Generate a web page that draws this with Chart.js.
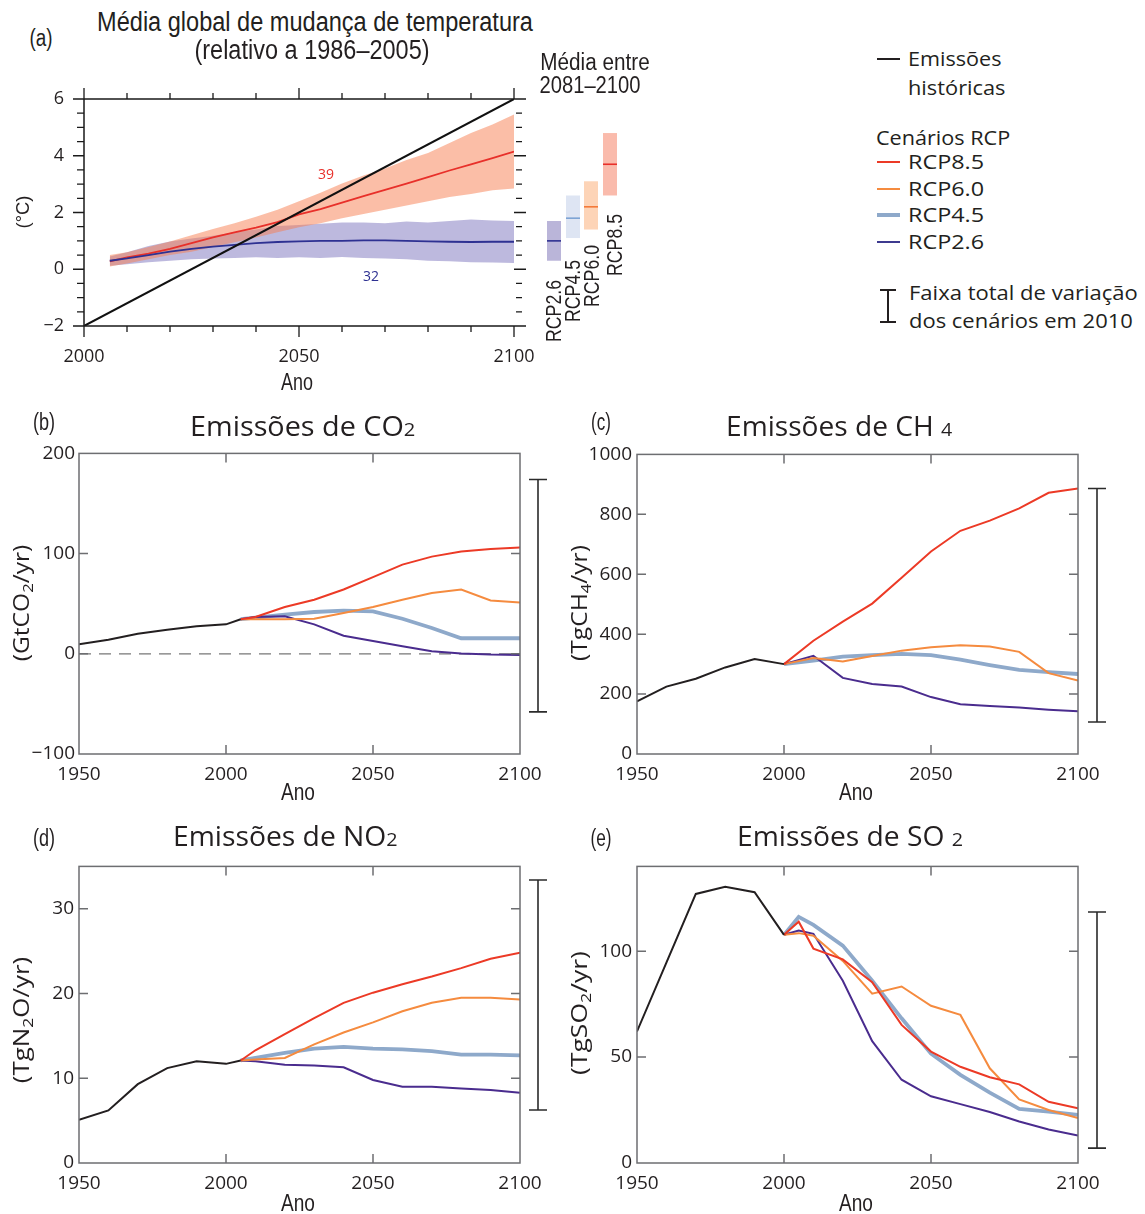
<!DOCTYPE html>
<html><head><meta charset="utf-8">
<script src="https://cdn.jsdelivr.net/npm/chart.js@4.4.1/dist/chart.umd.min.js"></script>
<style>
body{margin:0;background:#fff;}
#root{position:relative;width:1145px;height:1214px;overflow:hidden;font-family:"Open Sans",sans-serif;color:#231f20;background:#fff;}
#root canvas{position:absolute;}
.t{position:absolute;white-space:nowrap;line-height:1;}
.hl{position:absolute;}
</style></head><body><div id="root"></div>
<script>
// ---------------- DATA ----------------
// Panel (a): global mean temperature change (°C, relative to 1986–2005)
const tempYears = [2006,2010,2015,2020,2025,2030,2035,2040,2045,2050,2055,2060,2065,2070,2075,2080,2085,2090,2095,2100];
const rcp85Mean = [0.28,0.42,0.55,0.72,0.92,1.12,1.30,1.47,1.66,1.93,2.12,2.35,2.58,2.80,3.02,3.25,3.48,3.70,3.92,4.15];
const rcp85High = [0.50,0.60,0.78,0.98,1.20,1.42,1.62,1.85,2.10,2.40,2.70,3.02,3.30,3.55,3.85,4.10,4.45,4.80,5.10,5.45];
const rcp85Low  = [0.10,0.20,0.35,0.50,0.62,0.78,0.95,1.12,1.30,1.48,1.62,1.80,1.95,2.10,2.25,2.40,2.55,2.65,2.78,2.85];
const rcp26Mean = [0.30,0.38,0.50,0.62,0.72,0.80,0.86,0.92,0.96,0.98,1.00,1.00,1.02,1.02,1.00,0.98,0.97,0.96,0.97,0.97];
const rcp26High = [0.45,0.60,0.82,0.98,1.08,1.18,1.30,1.40,1.52,1.56,1.60,1.65,1.65,1.62,1.68,1.65,1.70,1.75,1.72,1.70];
const rcp26Low  = [0.12,0.18,0.25,0.30,0.35,0.38,0.40,0.42,0.40,0.42,0.40,0.43,0.40,0.38,0.35,0.30,0.28,0.25,0.24,0.22];
const diagYears = [2000,2100];
const diagValues = [-2,6];
const modelCounts = ['39','32'];
// 2081–2100 mean ranges
const barScenarios = ['RCP2.6','RCP4.5','RCP6.0','RCP8.5'];
const barLow  = [0.3,1.1,1.4,2.6];
const barHigh = [1.7,2.6,3.1,4.8];
const barMean = [1.0,1.8,2.2,3.7];

// Emission panels
const histYears = [1950,1960,1970,1980,1990,2000];
const rcpYears  = [2010,2020,2030,2040,2050,2060,2070,2080,2090,2100];

const co2Hist = [9.5,14,20,24,27.4,29.4,34.5];      // + 2005
const co2Start = 2005;
const co2_85 = [36.7,46.7,54,64.2,76.5,89,97,102,104.7,106];
const co2_60 = [34.4,34.4,35,40.7,46.7,54,60.6,64.2,53.3,51.3];
const co2_45 = [36,39,41.7,43,42.3,35,25.8,15.5,15.5,15.5];
const co2_26 = [36.7,37.4,29.4,18,12.8,7.5,2.5,0.2,-0.8,-1.1];
const co2Range = [-58,174];

const ch4Hist = [176,225,251,289,317,300];
const ch4_85 = [378,442,502,588,676,745,779,820,872,886];
const ch4_60 = [320,309,327,345,356,363,359,341,270,245];
const ch4_45 = [312,325,330,334,330,315,297,281,273,267];
const ch4_26 = [328,254,234,225,190,166,160,155,148,143];
const ch4Range = [107,886];

const n2oHist = [5.1,6.2,9.3,11.2,12.0,11.7,12.1]; // + 2005
const n2oStart = 2005;
const n2o_85 = [13.3,15.2,17.1,18.9,20.1,21.1,22.0,23.0,24.1,24.8];
const n2o_60 = [12.2,12.4,14.0,15.4,16.6,17.9,18.9,19.5,19.5,19.3];
const n2o_45 = [12.4,13.0,13.5,13.7,13.5,13.4,13.2,12.8,12.8,12.7];
const n2o_26 = [12.0,11.6,11.5,11.3,9.8,9.0,9.0,8.8,8.6,8.3];
const n2oRange = [6.25,33.4];

const so2Hist = [62.1,94.6,127,130.4,127.8,107.7];
const so2Years = [2005,2010,2020,2030,2040,2050,2060,2070,2080,2090,2100];
const so2_85 = [113.9,101.2,96.1,85.3,65.2,52.6,45.4,40.5,37.1,28.9,25.8];
const so2_60 = [108.5,107.3,95.4,79.9,83.3,74.2,69.9,44.7,30.0,25.0,21.2];
const so2_45 = [116.2,112.4,102.6,86,68.3,51.6,41.6,33.2,25.5,24.3,22.7];
const so2_26 = [109.7,108.2,86,57.5,39.3,31.5,27.8,24.1,19.6,15.8,13.0];
const so2Range = [7,118.5];

// ---------------- STYLE ----------------
const C = {
  black:'#231f20', red:'#ec3a26', orange:'#f58b3f', blue45:'#8ea9ca', purple:'#4a2c8e',
  tRed:'#e8302a', tBlue:'#2e3192'
};
const root = document.getElementById('root');

function pts(xs, ys){ return ys.map((v,i)=>({x:xs[i], y:v})); }

// ---------------- HTML text helper ----------------
const fitList = [];
function addText(html, o){
  const el = document.createElement('div');
  el.className='t';
  el.innerHTML = html;
  el.style.fontSize = o.size+'px';
  el.style.fontFamily = o.font || '"Open Sans", sans-serif';
  el.style.color = o.color || C.black;
  el.style.left = o.x+'px';
  el.style.top = o.y+'px';
  root.appendChild(el);
  fitList.push({el,o});
  return el;
}
function fitAll(){
  for(const {el,o} of fitList){
    const w0 = el.offsetWidth || 1;
    const s = o.w ? o.w / w0 : 1;
    if(o.rot){
      el.style.transformOrigin='50% 50%';
      el.style.transform=`translate(-50%,-50%) rotate(${o.rot}deg) scaleX(${s})`;
    } else if(o.anchor==='center'){
      el.style.transformOrigin='50% 50%';
      el.style.transform=`translate(-50%,-50%) scaleX(${s})`;
    } else {
      el.style.transformOrigin='0 50%';
      el.style.transform=`translateY(-50%) scaleX(${s})`;
    }
  }
}

function makeCanvas(left, top, w, h){
  const c = document.createElement('canvas');
  c.width = w; c.height = h;
  c.style.left = left+'px'; c.style.top = top+'px';
  c.style.width = w+'px'; c.style.height = h+'px';
  root.appendChild(c);
  return c;
}

const minus = v => v<0 ? '\u2212'+Math.abs(v) : String(v);
const plain = v => String(v);

// ---------------- Panel (a) ----------------
(function(){
  const L=0, T=60, W=640, H=345;
  const cl=84, ct=39, cr=514, cb=266;
  const cv = makeCanvas(L,T,W,H);
  const aPlugin = {
    id:'aFrame',
    afterDraw(chart){
      const ctx=chart.ctx, xs=chart.scales.x, ys=chart.scales.y, a=chart.chartArea;
      ctx.save();
      ctx.strokeStyle='#1a1a1a'; ctx.lineWidth=1.5;
      ctx.beginPath();
      ctx.moveTo(a.left,a.top); ctx.lineTo(a.right,a.top);
      ctx.moveTo(a.left,a.bottom); ctx.lineTo(a.right,a.bottom);
      ctx.moveTo(a.left,a.top); ctx.lineTo(a.left,a.bottom);
      ctx.stroke();
      ctx.lineWidth=1.3;
      ctx.beginPath();
      for(let yr=2000; yr<=2100; yr+=10){
        const px = xs.getPixelForValue(yr);
        const len = (yr%50===0)?11:6;
        ctx.moveTo(px,a.top); ctx.lineTo(px,a.top-len);
        ctx.moveTo(px,a.bottom); ctx.lineTo(px,a.bottom+len);
      }
      for(let v=-2; v<=6.001; v+=0.5){
        const py = ys.getPixelForValue(v);
        const major = Math.abs(v%2)<1e-6;
        const len = major?11:7;
        ctx.moveTo(a.left,py); ctx.lineTo(a.left-len,py);
        ctx.moveTo(a.right+(major?0:2),py); ctx.lineTo(a.right+(major?12:8),py);
      }
      ctx.stroke();
      // 2081-2100 bars
      const barX = [547,566,584,603];
      const fills = ['rgba(110,100,175,0.48)','rgba(160,180,220,0.35)','rgba(250,160,95,0.45)','rgba(245,120,90,0.5)'];
      const lines = ['#2e3192','#7ea4d4','#f47a3a','#e8302a'];
      for(let i=0;i<barScenarios.length;i++){
        const y1=ys.getPixelForValue(barHigh[i]), y0=ys.getPixelForValue(barLow[i]);
        ctx.fillStyle=fills[i];
        ctx.fillRect(barX[i]-L, y1, 14, y0-y1);
        const ym=ys.getPixelForValue(barMean[i]);
        ctx.strokeStyle=lines[i]; ctx.lineWidth=1.6;
        ctx.beginPath(); ctx.moveTo(barX[i]-L,ym); ctx.lineTo(barX[i]-L+14,ym); ctx.stroke();
      }
      ctx.restore();
    }
  };
  new Chart(cv,{
    type:'line',
    data:{datasets:[
      {data:pts(tempYears,rcp26Low), borderWidth:0, pointRadius:0, fill:false, order:10},
      {data:pts(tempYears,rcp26High), borderWidth:0, pointRadius:0, fill:'-1', backgroundColor:'rgba(112,102,182,0.46)', order:9},
      {data:pts(tempYears,rcp85Low), borderWidth:0, pointRadius:0, fill:false, order:8},
      {data:pts(tempYears,rcp85High), borderWidth:0, pointRadius:0, fill:'-1', backgroundColor:'rgba(247,125,80,0.5)', order:7},
      {data:pts(tempYears,rcp85Mean), borderColor:C.tRed, borderWidth:1.8, pointRadius:0, fill:false, order:3},
      {data:pts(tempYears,rcp26Mean), borderColor:C.tBlue, borderWidth:1.8, pointRadius:0, fill:false, order:2},
      {data:pts(diagYears,diagValues), borderColor:'#111', borderWidth:2, pointRadius:0, fill:false, order:1}
    ]},
    options:{
      responsive:false, animation:false, events:[],
      layout:{padding:{left:0,top:ct,right:W-cr,bottom:0}},
      plugins:{legend:{display:false},tooltip:{enabled:false}},
      scales:{
        x:{type:'linear',min:2000,max:2100,
          ticks:{stepSize:50,padding:20,color:'#231f20',font:{family:'"Open Sans"',size:18},maxRotation:0,autoSkip:false,callback:plain},
          grid:{display:false,drawTicks:false}, border:{display:false},
          afterFit:s=>{s.height=H-cb;}},
        y:{min:-2,max:6,
          ticks:{stepSize:2,padding:20,color:'#231f20',font:{family:'"Open Sans"',size:18},callback:minus},
          grid:{display:false,drawTicks:false}, border:{display:false},
          afterFit:s=>{s.width=cl;}}
      }
    },
    plugins:[aPlugin]
  });
})();

// ---------------- Emission panels ----------------
function emisPanel(cfg){
  const {left, top, W, H, cl, ct, cw, ch, ymin, ymax, ystep, labelPad, barX, range, series, dashedZero} = cfg;
  const cv = makeCanvas(left, top, W, H);
  const plug = {
    id:'eFrame',
    beforeDatasetsDraw(chart){
      if(!dashedZero) return;
      const ctx=chart.ctx, a=chart.chartArea, ys=chart.scales.y;
      const py=ys.getPixelForValue(0);
      ctx.save(); ctx.strokeStyle='#777'; ctx.lineWidth=1.2; ctx.setLineDash([12,8]);
      ctx.beginPath(); ctx.moveTo(a.left,py); ctx.lineTo(a.right,py); ctx.stroke(); ctx.restore();
    },
    afterDraw(chart){
      const ctx=chart.ctx, a=chart.chartArea, xs=chart.scales.x, ys=chart.scales.y;
      ctx.save();
      ctx.strokeStyle='#6d6e71'; ctx.lineWidth=1.5;
      ctx.strokeRect(a.left,a.top,a.right-a.left,a.bottom-a.top);
      ctx.beginPath();
      for(const yr of [2000,2050]){
        const px=xs.getPixelForValue(yr);
        ctx.moveTo(px,a.top); ctx.lineTo(px,a.top+9);
        ctx.moveTo(px,a.bottom); ctx.lineTo(px,a.bottom-9);
      }
      for(let v=ymin+ystep; v<ymax; v+=ystep){
        const py=ys.getPixelForValue(v);
        ctx.moveTo(a.left,py); ctx.lineTo(a.left+9,py);
        ctx.moveTo(a.right,py); ctx.lineTo(a.right-9,py);
      }
      ctx.stroke();
      // total range of scenarios in 2010
      const y1=ys.getPixelForValue(range[1]), y0=ys.getPixelForValue(range[0]);
      const bx = barX-left;
      ctx.strokeStyle='#2b2b2b'; ctx.lineWidth=1.6;
      ctx.beginPath();
      ctx.moveTo(bx,y1); ctx.lineTo(bx,y0);
      ctx.moveTo(bx-9,y1); ctx.lineTo(bx+9,y1);
      ctx.moveTo(bx-9,y0); ctx.lineTo(bx+9,y0);
      ctx.stroke();
      ctx.restore();
    }
  };
  new Chart(cv,{
    type:'line',
    data:{datasets:series.map((s,i)=>({data:s.data, borderColor:s.color, borderWidth:s.width||2, pointRadius:0, fill:false, tension:0, order:s.order}))},
    options:{
      responsive:false, animation:false, events:[],
      layout:{padding:{left:0,top:ct,right:W-cl-cw,bottom:0}},
      plugins:{legend:{display:false},tooltip:{enabled:false}},
      scales:{
        x:{type:'linear',min:1950,max:2100,
          ticks:{stepSize:50,padding:9,color:'#231f20',font:{family:'"Open Sans"',size:19},maxRotation:0,autoSkip:false,callback:plain},
          grid:{display:false,drawTicks:false}, border:{display:false},
          afterFit:s=>{s.height=H-ct-ch;}},
        y:{min:ymin,max:ymax,
          ticks:{stepSize:ystep,padding:labelPad,color:'#231f20',font:{family:'"Open Sans"',size:19},callback:minus},
          grid:{display:false,drawTicks:false}, border:{display:false},
          afterBuildTicks:s=>{s.ticks=s.ticks.filter(t=>Math.abs(t.value/ystep-Math.round(t.value/ystep))<1e-6);},
          afterFit:s=>{s.width=cl;}}
      }
    },
    plugins:[plug]
  });
}

function withStart(startYear, startVal, years, vals){ return [{x:startYear,y:startVal}].concat(pts(years,vals)); }

// (b) CO2
(function(){
  const hy = histYears.concat([co2Start]);
  const s0 = co2Hist[co2Hist.length-1];
  emisPanel({left:0, top:438, W:560, H:372, cl:79, ct:15, cw:441, ch:301, ymin:-100, ymax:200, ystep:100, labelPad:4,
    barX:538, range:co2Range, dashedZero:true,
    series:[
      {data:pts(hy,co2Hist), color:C.black, order:1},
      {data:withStart(co2Start,s0,rcpYears,co2_85), color:C.red, order:2},
      {data:withStart(co2Start,s0,rcpYears,co2_60), color:C.orange, order:3},
      {data:withStart(co2Start,s0,rcpYears,co2_26), color:C.purple, order:4},
      {data:withStart(co2Start,s0,rcpYears,co2_45), color:C.blue45, width:3.8, order:5}
    ]});
})();
// (c) CH4
(function(){
  const s0 = ch4Hist[ch4Hist.length-1];
  emisPanel({left:560, top:438, W:585, H:372, cl:77, ct:15, cw:441, ch:301, ymin:0, ymax:1000, ystep:200, labelPad:5,
    barX:1097, range:ch4Range,
    series:[
      {data:pts(histYears,ch4Hist), color:C.black, order:1},
      {data:withStart(2000,s0,rcpYears,ch4_85), color:C.red, order:2},
      {data:withStart(2000,s0,rcpYears,ch4_60), color:C.orange, order:3},
      {data:withStart(2000,s0,rcpYears,ch4_26), color:C.purple, order:4},
      {data:withStart(2000,s0,rcpYears,ch4_45), color:C.blue45, width:3.8, order:5}
    ]});
})();
// (d) N2O
(function(){
  const hy = histYears.concat([n2oStart]);
  const s0 = n2oHist[n2oHist.length-1];
  emisPanel({left:0, top:850, W:560, H:364, cl:79, ct:15, cw:441, ch:298, ymin:0, ymax:35, ystep:10, labelPad:5,
    barX:538, range:n2oRange,
    series:[
      {data:pts(hy,n2oHist), color:C.black, order:1},
      {data:withStart(n2oStart,s0,rcpYears,n2o_85), color:C.red, order:2},
      {data:withStart(n2oStart,s0,rcpYears,n2o_60), color:C.orange, order:3},
      {data:withStart(n2oStart,s0,rcpYears,n2o_26), color:C.purple, order:4},
      {data:withStart(n2oStart,s0,rcpYears,n2o_45), color:C.blue45, width:3.8, order:5}
    ]});
})();
// (e) SO2
(function(){
  const s0 = so2Hist[so2Hist.length-1];
  emisPanel({left:560, top:850, W:585, H:364, cl:77, ct:15, cw:441, ch:298, ymin:0, ymax:140, ystep:50, labelPad:5,
    barX:1097, range:so2Range,
    series:[
      {data:pts(histYears,so2Hist), color:C.black, order:1},
      {data:withStart(2000,s0,so2Years,so2_85), color:C.red, order:2},
      {data:withStart(2000,s0,so2Years,so2_60), color:C.orange, order:3},
      {data:withStart(2000,s0,so2Years,so2_26), color:C.purple, order:4},
      {data:withStart(2000,s0,so2Years,so2_45), color:C.blue45, width:3.8, order:5}
    ]});
})();

// ---------------- Text ----------------
const NARROW = '"Liberation Sans", Arial, sans-serif';
const MY = '"Open Sans", sans-serif';
addText('(a)', {x:41, y:38, size:23, font:NARROW, w:23, anchor:'center'});
addText('Média global de mudança de temperatura', {x:315, y:22, size:27, font:NARROW, w:436, anchor:'center'});
addText('(relativo a 1986–2005)', {x:312, y:50, size:27, font:NARROW, w:235, anchor:'center'});
addText('Média entre', {x:595, y:62, size:23, font:NARROW, w:109, anchor:'center'});
addText('2081–2100', {x:590, y:85, size:23, font:NARROW, w:101, anchor:'center'});
addText('(°C)', {x:22, y:212, size:19, font:NARROW, w:33, rot:-90});
addText('Ano', {x:297, y:382, size:23, font:NARROW, w:32, anchor:'center'});
addText(modelCounts[0], {x:326, y:174, size:14, font:MY, color:C.tRed, anchor:'center'});
addText(modelCounts[1], {x:371, y:276, size:14, font:MY, color:C.tBlue, anchor:'center'});
const rcpLab = [[554,311],[573,291],[592,276],[615,245]];
barScenarios.forEach((s,i)=>addText(s,{x:rcpLab[i][0], y:rcpLab[i][1], size:22, font:NARROW, w:62, rot:-90}));

// legend
function hline(x1,x2,y,color,th){
  const d=document.createElement('div'); d.className='hl';
  d.style.left=x1+'px'; d.style.width=(x2-x1)+'px'; d.style.top=(y-th/2)+'px'; d.style.height=th+'px';
  d.style.background=color; root.appendChild(d); return d;
}
function vline(x,y1,y2,color,th){
  const d=document.createElement('div'); d.className='hl';
  d.style.left=(x-th/2)+'px'; d.style.width=th+'px'; d.style.top=y1+'px'; d.style.height=(y2-y1)+'px';
  d.style.background=color; root.appendChild(d); return d;
}
hline(877,900,59,'#231f20',1.6);
addText('Emissões',{x:908,y:59,size:20,font:MY,w:94});
addText('históricas',{x:908,y:88,size:20,font:MY,w:97});
addText('Cenários RCP',{x:876,y:138,size:20,font:MY,w:134});
const legItems = [['RCP8.5','#ec3a26',162,1.6],['RCP6.0','#f58b3f',189,1.6],['RCP4.5','#8ea9ca',215,3.2],['RCP2.6','#3d3a8f',242,1.6]];
legItems.forEach(([t,c,y,th])=>{hline(877,900,y,c,th); addText(t,{x:908,y:y,size:20,font:MY,w:76});});
vline(888,290,322,'#231f20',1.4);
hline(880,896,290,'#231f20',1.4);
hline(880,896,322,'#231f20',1.4);
addText('Faixa total de variação',{x:909,y:293,size:20,font:MY,w:229});
addText('dos cenários em 2010',{x:909,y:321,size:20,font:MY,w:224});

// panel labels and titles
addText('(b)',{x:44,y:422,size:23,font:NARROW,w:22,anchor:'center'});
addText('(c)',{x:601,y:422,size:23,font:NARROW,w:20,anchor:'center'});
addText('(d)',{x:44,y:838,size:23,font:NARROW,w:22,anchor:'center'});
addText('(e)',{x:601,y:838,size:23,font:NARROW,w:21,anchor:'center'});
const sub = s => `<span style="font-size:0.7em">${s}</span>`;
addText('Emissões de CO'+sub('2'),{x:190,y:425,size:27,font:MY,w:225});
addText('Emissões de CH '+sub('4'),{x:726,y:425,size:27,font:MY,w:226});
addText('Emissões de NO'+sub('2'),{x:173,y:835,size:27,font:MY,w:225});
addText('Emissões de SO '+sub('2'),{x:737,y:835,size:27,font:MY,w:226});
const ysub = s => `<span style="font-size:0.68em;vertical-align:-0.3em">${s}</span>`;
addText('(GtCO'+ysub('2')+'/yr)',{x:22,y:603,size:22,font:MY,w:116,rot:-90});
addText('(TgCH'+ysub('4')+'/yr)',{x:580,y:603,size:22,font:MY,w:116,rot:-90});
addText('(TgN'+ysub('2')+'O/yr)',{x:22,y:1020,size:22,font:MY,w:126,rot:-90});
addText('(TgSO'+ysub('2')+'/yr)',{x:580,y:1013,size:22,font:MY,w:124,rot:-90});
addText('Ano',{x:298,y:792,size:23,font:NARROW,w:34,anchor:'center'});
addText('Ano',{x:856,y:792,size:23,font:NARROW,w:34,anchor:'center'});
addText('Ano',{x:298,y:1203,size:23,font:NARROW,w:34,anchor:'center'});
addText('Ano',{x:856,y:1203,size:23,font:NARROW,w:34,anchor:'center'});

fitAll();
if(document.fonts && document.fonts.ready){ document.fonts.ready.then(fitAll); }
</script></body></html>
